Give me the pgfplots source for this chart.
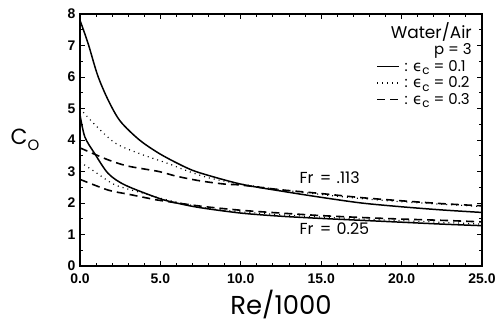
\documentclass[border=0pt]{standalone}
\usepackage{fontspec}
\setmainfont{Liberation Sans}
\newfontfamily\pop{Poppins}
\newfontfamily\dv{DejaVu Sans}
\usepackage{pgfplots}
\pgfplotsset{compat=1.18}
\newcommand{\epsc}{{\dv ϵ}\raisebox{-0.45ex}{\fontsize{12}{12}\selectfont c}}
\begin{document}
\begin{tikzpicture}
\useasboundingbox (-80bp,-57bp) rectangle (419bp,266bp);
\begin{axis}[
  scale only axis, width=402bp, height=252bp,
  xmin=0, xmax=25, ymin=0, ymax=8,
  xtick={0,5,10,15,20,25}, ytick={0,1,...,8},
  minor x tick num=4, minor y tick num=1,
  tick align=inside,
  major tick length=5bp, minor tick length=3bp,
  axis line style={line width=1.5pt},
  every tick/.style={line width=1pt,black},
  /pgf/number format/assume math mode=true,
  xticklabel={\pgfmathprintnumber[fixed,fixed zerofill,precision=1]{\tick}},
  yticklabel={\pgfmathprintnumber[fixed,precision=0]{\tick}},
  ticklabel style={font=\fontsize{14}{14}\selectfont\bfseries},
  xticklabel style={yshift=-4bp},
  yticklabel style={xshift=-1bp},
  xlabel={\pop\fontsize{26}{26}\selectfont Re/1000},
  every axis x label/.style={at={(axis description cs:0.5,-0.152)},anchor=center},
  ylabel={\pop\fontsize{22}{22}\selectfont C\raisebox{-0.45ex}{\fontsize{15}{15}\selectfont O}},
  every axis y label/.style={at={(axis description cs:-0.137,0.5)},anchor=center},
  legend style={draw=none, fill=none, at={(rel axis cs:0.975,0.825)}, anchor=north east,
    font=\pop\fontsize{15}{15}\selectfont, row sep=0pt, inner sep=0pt,
    /tikz/every even column/.style={column sep=0pt}},
  legend cell align=left,
  legend image code/.code={\draw[#1] (0bp,0bp) -- (22bp,0bp);},
  clip=false,
]
% Fr = 0.113
\addplot[black, line width=1.5pt, smooth, tension=0.5] coordinates {
(0,7.8)(0.5,7.07)(1.1,6.05)(1.75,5.27)(2.5,4.6)(3.7,4.0)(5,3.55)(6.5,3.15)(7.5,2.95)
(10,2.6)(12.5,2.38)(15,2.18)(17.5,2.0)(20,1.88)(22.5,1.78)(25,1.7)};
\addlegendentry{\,: \epsc\ = 0.1}
\addplot[black, line width=1.2pt, dash pattern=on 1pt off 4pt, smooth, tension=0.5] coordinates {
(0,5.0)(0.9,4.5)(2.2,3.9)(3.8,3.55)(5.5,3.25)(6.5,3.05)(8,2.8)(10,2.6)
(12.5,2.42)(15,2.27)(17.5,2.14)(20,2.04)(22.5,1.96)(25,1.89)};
\addlegendentry{\,: \epsc\ = 0.2}
\addplot[black, line width=1.6pt, dash pattern=on 8bp off 5bp, smooth, tension=0.5] coordinates {
(0,3.75)(1.75,3.37)(3,3.17)(4.9,3.0)(6,2.85)(7.5,2.7)(9,2.6)(10,2.57)
(12.5,2.42)(15,2.3)(17.5,2.17)(20,2.07)(22.5,1.98)(25,1.91)};
\addlegendentry{\,: \epsc\ = 0.3}
% Fr = 0.25
\addplot[black, line width=1.5pt, smooth, tension=0.5, forget plot] coordinates {
(0,4.8)(0.3,4.1)(0.9,3.58)(1.75,2.94)(2.8,2.57)(4.9,2.15)(6,2.0)(7.5,1.85)
(10,1.68)(12.5,1.58)(15,1.51)(17.5,1.45)(20,1.39)(22.5,1.33)(25,1.28)};
\addplot[black, line width=1.2pt, dash pattern=on 1pt off 4pt, smooth, tension=0.5, forget plot] coordinates {
(0,3.3)(0.9,3.0)(2,2.62)(2.8,2.47)(4,2.3)(5,2.15)(7.5,1.87)(10,1.72)
(15,1.55)(20,1.44)(25,1.33)};
\addplot[black, line width=1.6pt, dash pattern=on 8bp off 5bp, smooth, tension=0.5, forget plot] coordinates {
(0,2.75)(1.75,2.41)(3,2.28)(4.25,2.15)(5,2.08)(7.5,1.9)(10,1.77)(12.5,1.68)
(15,1.6)(17.5,1.54)(20,1.49)(22.5,1.45)(25,1.4)};
\node[anchor=east, font=\pop\fontsize{17}{17}\selectfont, inner sep=0pt] at (rel axis cs:0.975,0.929) {Water/Air};
\node[anchor=east, font=\pop\fontsize{15}{15}\selectfont, inner sep=0pt] at (rel axis cs:0.975,0.853) {p = 3};
\node[anchor=west, font=\pop\fontsize{16}{16}\selectfont, inner sep=0pt] at (axis cs:13.65,2.79) {Fr\hspace{2bp} = \hspace{1bp}.113};
\node[anchor=west, font=\pop\fontsize{16}{16}\selectfont, inner sep=0pt] at (axis cs:13.65,1.2) {Fr\hspace{2bp} = \hspace{1bp}0.25};
\end{axis}
\end{tikzpicture}
\end{document}
